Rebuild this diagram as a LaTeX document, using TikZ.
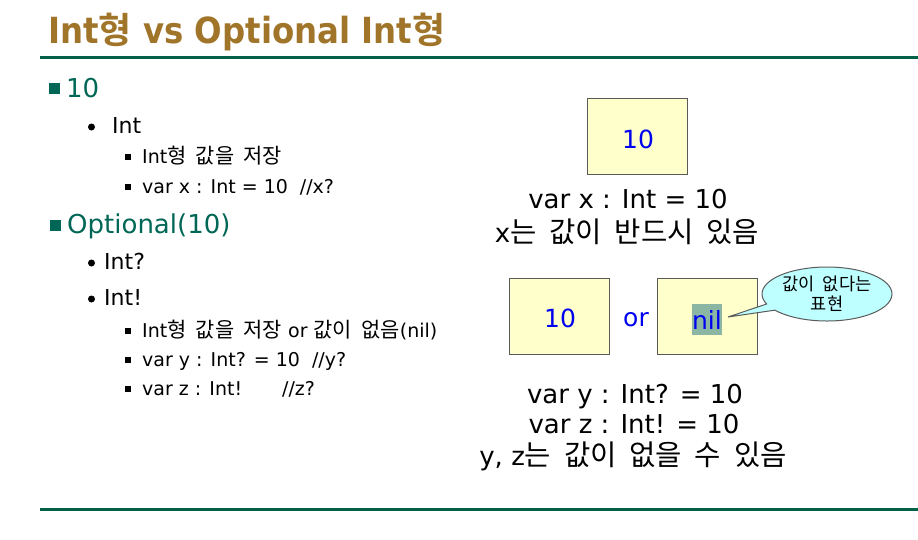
\documentclass[tikz,border=0pt]{standalone}
\usepackage{fontspec}
\setmainfont{DejaVu Sans}
\newfontfamily\kr[Scale=1.1, WordSpace=2]{Noto Sans CJK KR}
\newfontfamily\krb[WordSpace=2]{Noto Sans CJK KR Bold}
\newfontfamily\ttl[FakeStretch=0.9]{DejaVu Sans Bold}
\usetikzlibrary{shapes.callouts}
\definecolor{titlebrown}{RGB}{160,117,42}
\definecolor{rulegreen}{RGB}{0,96,72}
\definecolor{lvlgreen}{RGB}{0,102,85}
\definecolor{boxyellow}{RGB}{255,255,204}
\definecolor{boxline}{RGB}{90,90,90}
\definecolor{valblue}{RGB}{0,0,240}
\definecolor{selgreen}{RGB}{138,182,163}
\definecolor{bubblecyan}{RGB}{190,255,255}
\begin{document}
\begin{tikzpicture}[
        x=1pt, y=-1pt,
        txt/.style={anchor=base west, inner sep=0pt},
        ctr/.style={anchor=base, inner sep=0pt, text depth=0pt, font=\fontsize{26}{28}\selectfont},
        lvlone/.style={txt, text=lvlgreen, font=\fontsize{26}{28}\selectfont},
        lvltwo/.style={txt, font=\fontsize{22}{24}\selectfont},
        lvlthree/.style={txt, font=\fontsize{19}{21}\selectfont},
        sqone/.style={rectangle, fill=lvlgreen, inner sep=0pt, minimum size=11},
        dot/.style={circle, fill=black, inner sep=0pt, minimum size=7},
        sqthree/.style={rectangle, fill=black, inner sep=0pt, minimum size=6},
        box/.style={
            rectangle,
            draw=boxline,
            fill=boxyellow,
            line width=1pt,
            minimum width=100,
            minimum height=76,
        },
        val/.style={text=valblue, inner sep=0pt, font=\fontsize{25}{27}\selectfont},
        rule/.style={line width=3pt, rulegreen},
    ]

    \useasboundingbox (0,0) rectangle (918,539);

    \node (T) at (48,43) [txt, text=titlebrown, font=\fontsize{36}{38}\selectfont\ttl]
        {Int{\krb 형} vs Optional Int{\krb 형}};
    \draw [rule] (40,57) -- (918,57);
    \draw [rule] (40,509) -- (918,509);

    \node (S1) at (54.5,88) [sqone] {};
    \node (L1) at (66,97) [lvlone] {10};
    \node (D1) at (91.5,127) [dot] {};
    \node (L2) at (112,133) [lvltwo] {Int};
    \node (Q1) at (128,157) [sqthree] {};
    \node (L3) at (142,163) [lvlthree] {Int{\kr 형 값을 저장}};
    \node (Q2) at (128,187) [sqthree] {};
    \node (L4) at (142,193) [lvlthree] {var x : Int = 10\hspace{12pt}//x?};

    \node (S2) at (55.5,225.5) [sqone] {};
    \node (L5) at (67,233) [lvlone] {Optional(10)};
    \node (D2) at (91.5,263) [dot] {};
    \node (L6) at (104,269) [lvltwo] {Int?};
    \node (D3) at (91.5,299) [dot] {};
    \node (L7) at (104,305) [lvltwo] {Int!};
    \node (Q3) at (128,331) [sqthree] {};
    \node (L8) at (142,337) [lvlthree] {Int{\kr 형 값을 저장} or {\kr 값이 없음}(nil)};
    \node (Q4) at (128,360) [sqthree] {};
    \node (L9) at (142,366) [lvlthree] {var y : Int? = 10\hspace{12pt}//y?};
    \node (Q5) at (128,389) [sqthree] {};
    \node (L10) at (142,395) [lvlthree] {var z : Int!\hspace{40pt}//z?};

    \node (B1) at (637.5,136.5) [box] {};
    \node (V1) at (638,139) [val] {10};
    \node (X1) at (628,208) [ctr] {var x : Int = 10};
    \node (X2) at (627,242) [ctr] {x{\kr 는 값이 반드시 있음}};

    \node (B2) at (559,316.5) [box] {};
    \node (V2) at (560,318) [val] {10};
    \node (OR) at (636,320) [val] {or};
    \node (B3) at (707,316.5) [box] {};
    \node (NIL) at (707,319.5) [val, fill=selgreen, minimum height=31] {nil};

    \coordinate (P) at (728,317);
    \node (C) at (827,294) [ellipse callout, callout absolute pointer=(P),
        draw=boxline, fill=bubblecyan, line width=1pt,
        minimum width=130, minimum height=54, inner sep=0pt,
        align=center, font=\fontsize{16}{20}\selectfont\kr] {값이 없다는\\표현};

    \node (Y1) at (635,403) [ctr] {var y : Int? = 10};
    \node (Y2) at (634,433) [ctr] {var z : Int! = 10};
    \node (Y3) at (633,465) [ctr] {y, z{\kr 는 값이 없을 수 있음}};

\end{tikzpicture}
\end{document}
